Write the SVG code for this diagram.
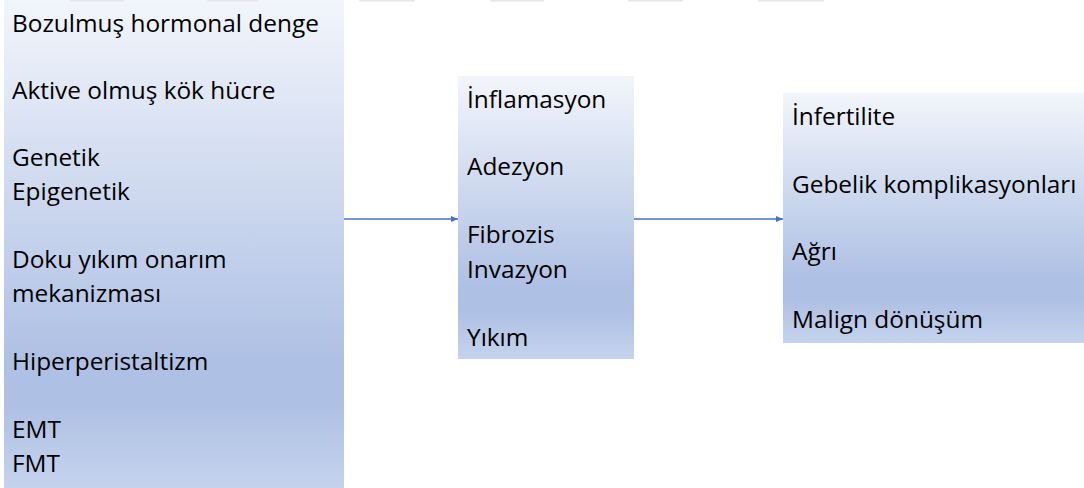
<svg xmlns="http://www.w3.org/2000/svg" width="1084" height="488" viewBox="0 0 1084 488">
  <defs>
    <linearGradient id="g" x1="0" y1="0" x2="0" y2="1">
      <stop offset="0" stop-color="#F2F5FB"/>
      <stop offset="0.74" stop-color="#AEC0E4"/>
      <stop offset="0.83" stop-color="#AEC0E4"/>
      <stop offset="1" stop-color="#C5D3ED"/>
    </linearGradient>
    <marker id="ah" markerWidth="8" markerHeight="8" refX="7" refY="4" orient="auto" markerUnits="userSpaceOnUse">
      <path d="M0,1 L7,4 L0,7 Z" fill="#4472C4"/>
    </marker>
  </defs>
  <style>
    .box { fill: url(#g); }
    .t { font-family: "Open Sans", "Liberation Sans", sans-serif; font-size: 24.4px; fill: #000; }
    .c { stroke: #4472C4; stroke-width: 1.5; fill: none; marker-end: url(#ah); }
    .top { fill: #E4E6EA; }
  </style>
  <rect width="1084" height="488" fill="#ffffff"/>
  <g id="causes">
    <rect class="box" x="4" y="0" width="340" height="488"/>
    <text class="t" x="12" y="32">Bozulmuş hormonal denge</text>
    <text class="t" x="12" y="99">Aktive olmuş kök hücre</text>
    <text class="t" x="12" y="166">Genetik</text>
    <text class="t" x="12" y="200">Epigenetik</text>
    <text class="t" x="12" y="268">Doku yıkım onarım</text>
    <text class="t" x="12" y="302">mekanizması</text>
    <text class="t" x="12" y="370">Hiperperistaltizm</text>
    <text class="t" x="12" y="438">EMT</text>
    <text class="t" x="12" y="472">FMT</text>
  </g>
  <g id="topshapes">
    <rect class="top" x="69" y="0" width="55" height="1.5" rx="0.7"/>
    <rect class="top" x="207" y="0" width="52" height="1.5" rx="0.7"/>
    <rect class="top" x="359" y="0" width="56" height="1.5" rx="0.7"/>
    <rect class="top" x="490" y="0" width="54" height="1.5" rx="0.7"/>
    <rect class="top" x="628" y="0" width="55" height="1.5" rx="0.7"/>
    <rect class="top" x="758" y="0" width="66" height="1.5" rx="0.7"/>
  </g>
  <g id="processes">
    <rect class="box" x="458" y="76" width="176" height="283"/>
    <text class="t" x="467" y="108">İnflamasyon</text>
    <text class="t" x="467" y="175">Adezyon</text>
    <text class="t" x="467" y="243">Fibrozis</text>
    <text class="t" x="467" y="278">Invazyon</text>
    <text class="t" x="467" y="346">Yıkım</text>
  </g>
  <g id="outcomes">
    <rect class="box" x="783" y="93" width="301" height="250"/>
    <text class="t" x="792" y="125">İnfertilite</text>
    <text class="t" x="792" y="193">Gebelik komplikasyonları</text>
    <text class="t" x="792" y="260">Ağrı</text>
    <text class="t" x="792" y="328">Malign dönüşüm</text>
  </g>
  <g id="connectors">
    <line class="c" x1="344" y1="219" x2="458" y2="219"/>
    <line class="c" x1="634" y1="219" x2="783" y2="219"/>
  </g>
</svg>
